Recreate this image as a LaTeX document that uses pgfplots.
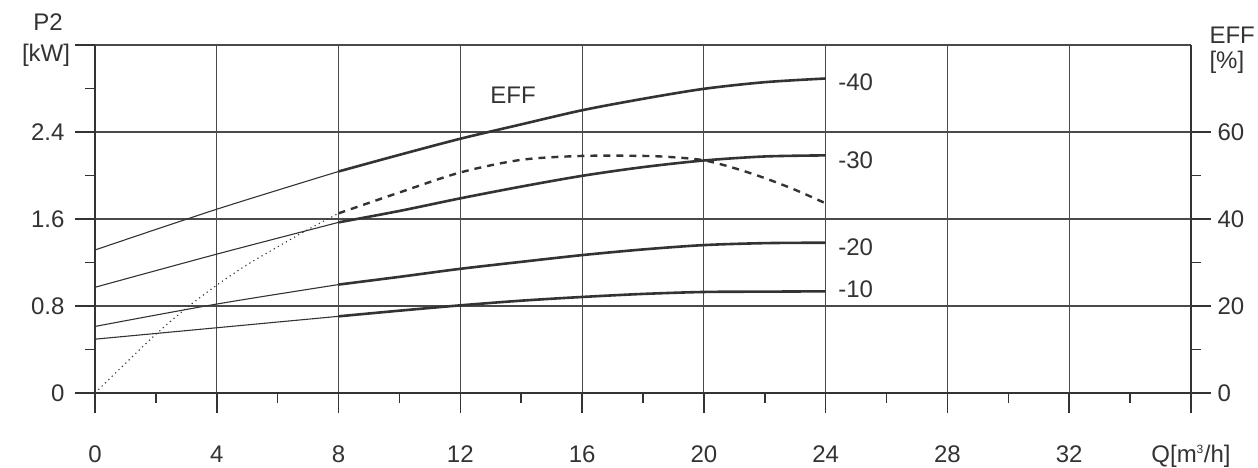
\documentclass[border=0pt]{standalone}
\usepackage{pgfplots}
\pgfplotsset{compat=1.18}
\usepackage{fontspec}
\setmainfont{Liberation Sans}
\definecolor{ink}{HTML}{333333}
\definecolor{gridc}{HTML}{4A4A4A}

\begin{document}
\begin{tikzpicture}[font=\fontsize{24}{28}\selectfont]
\pgfplotsset{
  common/.style={scale only axis, width=1096pt, height=348pt, xmin=0, xmax=36,
    tick align=outside, major tick length=20pt, minor tick length=10pt,
    tick style={ink, line width=1.5pt},
    axis line style={ink, line width=1.8pt, -},
    every tick label/.append style={text=ink},
    clip=false,
  }
}
\begin{axis}[common, ymin=0, ymax=3.2,
  axis x line*=bottom, axis y line*=left,
  xtick={0,4,...,36},
  xticklabels={0,4,8,12,16,20,24,28,32,{Q[m\textsuperscript{\fontsize{12}{12}\selectfont 3}/h]}},
  minor xtick={2,6,...,34},
  ytick={0,0.8,1.6,2.4,3.2}, yticklabels={0,0.8,1.6,2.4,{}},
  minor ytick={0.4,1.2,2.0,2.8},
  grid=major, major grid style={gridc, line width=1.1pt},
  xticklabel style={yshift=-29pt},
  yticklabel style={xshift=-7pt},
]
\coordinate (ll) at (rel axis cs:0,0);
\coordinate (ur) at (rel axis cs:1,1);
% -40
\addplot[ink, line width=1.1pt, smooth] coordinates {(0,1.315)(4,1.69)(8,2.037)};
\addplot[ink, line width=2.6pt, smooth] coordinates {(8,2.037)(10,2.19)(12,2.338)(14,2.47)(16,2.6)(18,2.705)(20,2.797)(22,2.858)(24,2.892)};
% -30
\addplot[ink, line width=1.1pt, smooth] coordinates {(0,0.972)(4,1.277)(8,1.569)};
\addplot[ink, line width=2.6pt, smooth] coordinates {(8,1.569)(10,1.674)(12,1.79)(14,1.898)(16,1.997)(18,2.077)(20,2.138)(22,2.175)(24,2.185)};
% -20
\addplot[ink, line width=1.1pt, smooth] coordinates {(0,0.612)(4,0.818)(8,0.997)};
\addplot[ink, line width=2.6pt, smooth] coordinates {(8,0.997)(10,1.068)(12,1.142)(14,1.206)(16,1.268)(18,1.32)(20,1.36)(22,1.378)(24,1.382)};
% -10
\addplot[ink, line width=1.1pt, smooth] coordinates {(0,0.495)(4,0.6)(8,0.705)};
\addplot[ink, line width=2.6pt, smooth] coordinates {(8,0.705)(10,0.757)(12,0.806)(14,0.849)(16,0.883)(18,0.911)(20,0.929)(22,0.932)(24,0.935)};
\node[anchor=west, text=ink] at (axis cs:24.3,2.86) {-40};
\node[anchor=west, text=ink] at (axis cs:24.3,2.142) {-30};
\node[anchor=west, text=ink] at (axis cs:24.3,1.343) {-20};
\node[anchor=west, text=ink] at (axis cs:24.3,0.956) {-10};
\node[text=ink] at (axis cs:13.73,2.74) {EFF};
\end{axis}
\begin{axis}[common, ymin=0, ymax=80,
  axis x line=none, axis y line*=right,
  ytick={0,20,40,60}, yticklabels={0,20,40,60}, minor ytick={10,30,50},
  yticklabel style={xshift=3pt},
]
\addplot[ink, line width=1.1pt, smooth, dash pattern=on 1.2pt off 3.5pt] coordinates {(0,0)(1,6.8)(2,13.5)(3,19.5)(4,24.8)(5,29.5)(6,33.6)(7,37.6)(8,41.3)};
\addplot[ink, line width=2.4pt, smooth, dash pattern=on 7pt off 6pt] coordinates {(8,41.3)(10,46.1)(12,50.7)(14,53.6)(16,54.5)(18,54.5)(19,54.2)(20,53.5)(21,51.7)(22,49.4)(23,46.7)(24,43.6)};
\end{axis}
\node[text=ink] at ([xshift=-47pt,yshift=23pt]ur -| ll) {P2};
\node[text=ink] at ([xshift=-49pt,yshift=-10pt]ur -| ll) {[kW]};
\node[text=ink, anchor=west] at ([xshift=15pt,yshift=10pt]ur) {EFF};
\node[text=ink, anchor=west] at ([xshift=15pt,yshift=-17pt]ur) {[\%]};
\pgfresetboundingbox
\path[use as bounding box] ([xshift=-95pt,yshift=-75pt]ll) rectangle ([xshift=67pt,yshift=45pt]ur);
\end{tikzpicture}
\end{document}
